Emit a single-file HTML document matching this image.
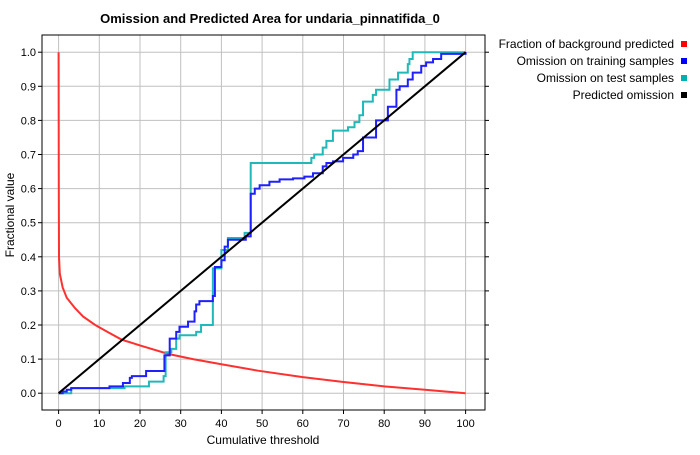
<!DOCTYPE html>
<html><head><meta charset="utf-8"><style>
body{margin:0;background:#fff;font-family:"Liberation Sans",sans-serif}
svg text{font-family:"Liberation Sans",sans-serif}
</style></head><body>
<svg id="c" width="700" height="450" xmlns="http://www.w3.org/2000/svg">
<rect x="0" y="0" width="700" height="450" fill="#fff"/>
<text x="270" y="23" text-anchor="middle" font-size="13" font-weight="bold">Omission and Predicted Area for undaria_pinnatifida_0</text>
<g id="grid"></g><g id="series"></g>
<rect x="42" y="35" width="443" height="375" fill="none" stroke="#000" stroke-width="1"/>
<g id="axes"></g>
<text x="263" y="444" text-anchor="middle" font-size="12">Cumulative threshold</text>
<text transform="translate(14,215) rotate(-90)" text-anchor="middle" font-size="12">Fractional value</text>
<g id="legend"></g>
</svg>
<script>
const xTicks=[0,10,20,30,40,50,60,70,80,90,100];
const yTicks=[0,0.1,0.2,0.3,0.4,0.5,0.6,0.7,0.8,0.9,1.0];
const bgX=[0,0.05,0.1,0.3,1,2,4,6,9,12,15.5,20,27,33,40,49,60,70,80,90,100];
const bgY=[1,0.6,0.4,0.35,0.31,0.28,0.25,0.225,0.2,0.18,0.157,0.14,0.115,0.1,0.085,0.066,0.047,0.033,0.02,0.01,0];
const trainX=[0,1,2,3.1,12.5,15.8,17.5,18,21.5,26,27.3,28.9,29.7,31.8,33.4,33.8,34.6,37.9,38.4,40,40.8,41.6,46,47.2,48.2,49.4,51.8,54.3,57.6,60.4,62.5,64.9,65.8,67.4,69.9,72.4,73.5,74.8,78,80.9,83,83.8,85.8,87,89.1,90.3,92,94,100];
const trainY=[0,0.005,0.01,0.015,0.02,0.03,0.045,0.05,0.065,0.111,0.16,0.18,0.195,0.21,0.24,0.26,0.27,0.285,0.37,0.39,0.43,0.45,0.46,0.585,0.6,0.61,0.62,0.627,0.63,0.635,0.645,0.665,0.675,0.68,0.69,0.7,0.71,0.75,0.8,0.84,0.89,0.9,0.92,0.94,0.96,0.97,0.98,0.995,1.0];
const testX=[0,3.1,16.2,22.2,25.8,26.3,27.7,28.9,29.7,33.8,35,37.9,40,41.6,45.7,47.2,62.1,62.8,64.9,65.8,67.4,71.1,72.7,73.9,74.8,77.2,78,81.3,83.4,85.8,86.2,87,100];
const testY=[0,0.015,0.02,0.034,0.05,0.12,0.13,0.16,0.17,0.18,0.2,0.366,0.42,0.455,0.47,0.675,0.69,0.70,0.72,0.74,0.77,0.78,0.795,0.815,0.855,0.875,0.89,0.92,0.94,0.965,0.98,1.0,1.0];
const predX=[0,100];
const predY=[0,1];
const legendLabels=["Fraction of background predicted","Omission on training samples","Omission on test samples","Predicted omission"];
const legendColors=["#ff0000","#0000ff","#00b0b0","#000000"];
const NS="http://www.w3.org/2000/svg";
const sx=v=>58.6+4.07*v, sy=v=>393.2-341*v;
function mk(t,a,p){const e=document.createElementNS(NS,t);for(const k in a)e.setAttribute(k,a[k]);p.appendChild(e);return e;}
const grid=document.getElementById('grid'),axes=document.getElementById('axes'),ser=document.getElementById('series'),leg=document.getElementById('legend');
xTicks.forEach(t=>{
 const l=mk('line',{x1:sx(t),x2:sx(t),y1:35,y2:410,stroke:'#c0c0c0'},grid);
 
 
 mk('line',{x1:sx(t),x2:sx(t),y1:410,y2:414,stroke:'#000'},axes);
 const tx=mk('text',{x:sx(t),y:427,'text-anchor':'middle','font-size':11},axes);tx.textContent=t;
 
 
});
yTicks.forEach(t=>{
 const l=mk('line',{x1:42,x2:485,y1:sy(t),y2:sy(t),stroke:'#c0c0c0'},grid);
 
 
 mk('line',{x1:38,x2:42,y1:sy(t),y2:sy(t),stroke:'#000'},axes);
 mk('line',{x1:485,x2:489,y1:sy(t),y2:sy(t),stroke:'#000'},axes);
 const tx=mk('text',{x:36,y:sy(t)+4,'text-anchor':'end','font-size':11},axes);tx.textContent=t.toFixed(1);
 
 
});
function line(xs,ys){return xs.map((x,i)=>sx(x)+','+sy(ys[i])).join(' ');}
function step(xs,ys){let p=[];for(let i=0;i<xs.length;i++){if(i>0)p.push(sx(xs[i])+','+sy(ys[i-1]));p.push(sx(xs[i])+','+sy(ys[i]));}return p.join(' ');}
let e;
e=mk('polyline',{points:line(bgX,bgY),fill:'none',stroke:'#ff3030','stroke-width':2},ser);


e=mk('polyline',{points:step(testX,testY),fill:'none',stroke:'#20b8b8','stroke-width':2},ser);


e=mk('polyline',{points:step(trainX,trainY),fill:'none',stroke:'#2020ff','stroke-width':2},ser);


e=mk('polyline',{points:line(predX,predY),fill:'none',stroke:'#000','stroke-width':2},ser);


legendLabels.forEach((lab,i)=>{
 const y=48+i*17;
 const t=mk('text',{x:674,y:y,'text-anchor':'end','font-size':12},leg);t.textContent=lab;
 
 
 const r=mk('rect',{x:681,y:y-7,width:6,height:6,fill:legendColors[i]},leg);
 
 
});
</script>
</body></html>
